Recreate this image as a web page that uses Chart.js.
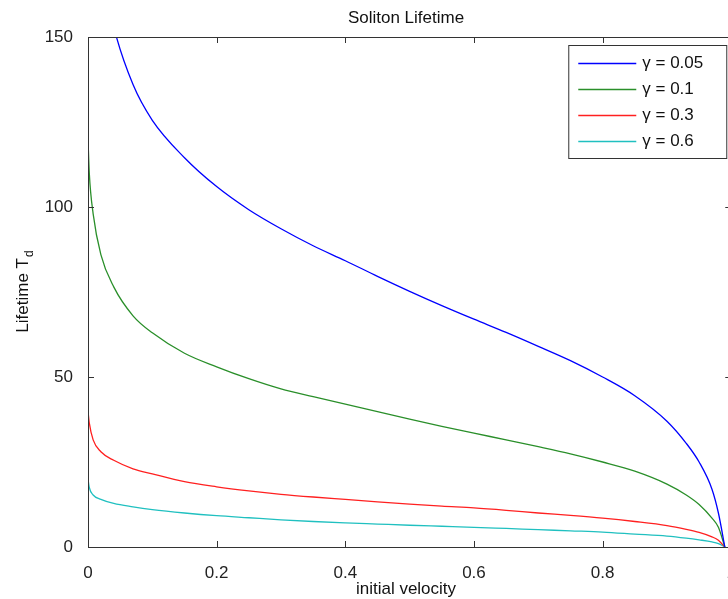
<!DOCTYPE html>
<html>
<head>
<meta charset="utf-8">
<script src="https://cdn.jsdelivr.net/npm/chart.js@4/dist/chart.umd.min.js"></script>
<style>
    html, body { margin: 0; padding: 0; background: #fff; }
    .frame { width: 728px; height: 599px; overflow: hidden; position: relative; }
    .frame canvas { position: absolute; left: 0; top: 0; }
</style>
</head>
<body>
<div class="frame">
    <canvas id="lifetimeChart" width="744" height="599"></canvas>
</div>
<script>

// initial velocity samples, shared by all curves
const velocity = [0, 0.002, 0.008, 0.02, 0.04, 0.07, 0.1, 0.15, 0.2, 0.25, 0.3, 0.35, 0.4, 0.45, 0.5, 0.55, 0.6, 0.65, 0.7, 0.75, 0.8, 0.85, 0.9, 0.93, 0.95, 0.97, 0.98, 0.99];

// lifetime T_d (blue runs above 150 near v=0 and is clipped)
const gamma005 = [240, 215, 195, 172, 153, 136, 125.5, 114.5, 106, 99.2, 93.6, 88.6, 84.2, 79.6, 75.2, 71, 67, 63.1, 59, 54.8, 50, 44.5, 37, 30.5, 25, 17, 10, 0];
const gamma01 = [120, 110, 98, 86, 76.5, 68, 63, 57, 53, 49.5, 46.5, 44.2, 42, 39.8, 37.6, 35.5, 33.5, 31.5, 29.5, 27.4, 25, 22.3, 18.5, 15.3, 12.5, 8.5, 5.8, 0];
const gamma03 = [40, 36.5, 31.5, 28, 25.5, 23, 21.5, 19.2, 17.7, 16.5, 15.5, 14.7, 14, 13.3, 12.6, 12, 11.5, 10.8, 10, 9.3, 8.5, 7.5, 6.3, 5.2, 4.3, 3, 2, 0];
const gamma06 = [20, 17.5, 15.3, 14, 12.8, 11.8, 11, 10, 9.2, 8.6, 8.0, 7.5, 7.1, 6.75, 6.4, 6.1, 5.8, 5.45, 5.1, 4.75, 4.4, 3.8, 3.2, 2.6, 2.1, 1.5, 1.0, 0];

const seriesLabels = ["γ = 0.05", "γ = 0.1", "γ = 0.3", "γ = 0.6"];
const seriesColors = ["#0000ff", "#2a8f2a", "#ff2020", "#20c0c0"];

const xTicks = [0, 0.2, 0.4, 0.6, 0.8, 1];
const yTicks = [0, 50, 100, 150];

const FONT = "'Liberation Sans', Arial, sans-serif";

function toPoints(values) {
    return values.map((v, i) => ({ x: velocity[i], y: v }));
}

// matlab style box with inward ticks, title, axis labels and boxed legend
const matlabFrame = {
    id: "matlabFrame",
    afterDraw(chart) {
        const ctx = chart.ctx;
        const area = chart.chartArea;
        const xs = chart.scales.x;
        const ys = chart.scales.y;
        const tick = 6;

        ctx.save();
        ctx.strokeStyle = "#333";
        ctx.lineWidth = 1;
        ctx.strokeRect(area.left + 0.5, area.top + 0.5, area.right - area.left, area.bottom - area.top);

        ctx.beginPath();
        xTicks.forEach((t) => {
            const px = Math.round(xs.getPixelForValue(t)) + 0.5;
            ctx.moveTo(px, area.bottom);
            ctx.lineTo(px, area.bottom - tick);
            ctx.moveTo(px, area.top);
            ctx.lineTo(px, area.top + tick);
        });
        yTicks.forEach((t) => {
            const py = Math.round(ys.getPixelForValue(t)) + 0.5;
            ctx.moveTo(area.left, py);
            ctx.lineTo(area.left + tick, py);
            ctx.moveTo(area.right, py);
            ctx.lineTo(area.right - tick, py);
        });
        ctx.stroke();

        // title
        ctx.fillStyle = "#111";
        ctx.font = "17px " + FONT;
        ctx.textAlign = "center";
        ctx.textBaseline = "middle";
        ctx.fillText("Soliton Lifetime", 406, 18);

        // x label
        ctx.fillText("initial velocity", 406, 589);

        // y label with subscript
        ctx.save();
        ctx.translate(23, 292);
        ctx.rotate(-Math.PI / 2);
        ctx.font = "17px " + FONT;
        const main = "Lifetime T";
        const mainW = ctx.measureText(main).width;
        ctx.font = "12px " + FONT;
        const subW = ctx.measureText("d").width;
        const startX = -(mainW + subW) / 2;
        ctx.textAlign = "left";
        ctx.font = "17px " + FONT;
        ctx.fillText(main, startX, 0);
        ctx.font = "12px " + FONT;
        ctx.fillText("d", startX + mainW + 1, 7);
        ctx.restore();

        // legend
        const lx = area.right - 163;
        const ly = area.top + 8;
        const lw = 158;
        const lh = 113;
        ctx.fillStyle = "#fff";
        ctx.fillRect(lx, ly, lw, lh);
        ctx.strokeStyle = "#333";
        ctx.strokeRect(lx + 0.5, ly + 0.5, lw, lh);

        ctx.font = "17px " + FONT;
        ctx.textAlign = "left";
        ctx.textBaseline = "middle";
        chart.data.datasets.forEach((ds, i) => {
            const rowY = ly + 18.5 + i * 26;
            ctx.strokeStyle = ds.borderColor;
            ctx.lineWidth = 1.5;
            ctx.beginPath();
            ctx.moveTo(lx + 10, rowY);
            ctx.lineTo(lx + 68, rowY);
            ctx.stroke();
            ctx.fillStyle = "#111";
            ctx.fillText(ds.label, lx + 74, rowY);
        });
        ctx.restore();
    }
};

const allSeries = [gamma005, gamma01, gamma03, gamma06];

const chart = new Chart(document.getElementById("lifetimeChart"), {
    type: "scatter",
    data: {
        datasets: allSeries.map((values, i) => ({
            label: seriesLabels[i],
            data: toPoints(values),
            showLine: true,
            borderColor: seriesColors[i],
            backgroundColor: seriesColors[i],
            borderWidth: 1.3,
            pointRadius: 0,
            cubicInterpolationMode: "monotone"
        }))
    },
    options: {
        responsive: false,
        animation: false,
        layout: {
            padding: { top: 37, right: 6, left: 0, bottom: 0 }
        },
        plugins: {
            legend: { display: false },
            title: { display: false },
            tooltip: { enabled: false }
        },
        scales: {
            x: {
                type: "linear",
                min: 0,
                max: 1,
                grid: { display: false },
                border: { display: false },
                afterFit: (scale) => { scale.height = 52; },
                afterBuildTicks: (scale) => { scale.ticks = xTicks.map((v) => ({ value: v })); },
                ticks: {
                    padding: 8,
                    color: "#222",
                    font: { family: FONT, size: 17 },
                    callback: (v) => String(Math.round(v * 10) / 10)
                }
            },
            y: {
                type: "linear",
                min: 0,
                max: 150,
                grid: { display: false },
                border: { display: false },
                afterFit: (scale) => { scale.width = 88; },
                afterBuildTicks: (scale) => { scale.ticks = yTicks.map((v) => ({ value: v })); },
                ticks: {
                    padding: 7,
                    color: "#222",
                    font: { family: FONT, size: 17 }
                }
            }
        }
    },
    plugins: [matlabFrame]
});

</script>
</body>
</html>
